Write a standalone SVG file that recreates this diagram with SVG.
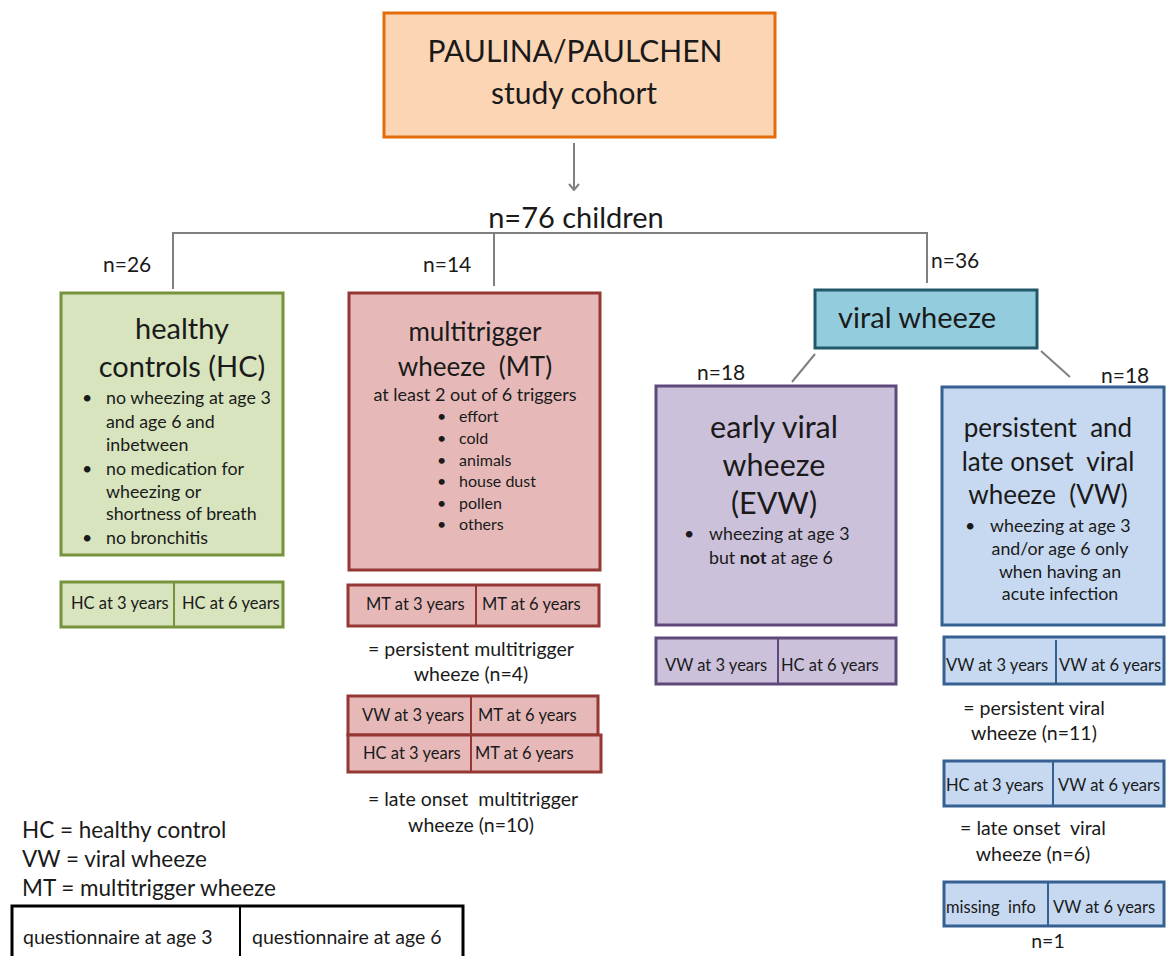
<svg xmlns="http://www.w3.org/2000/svg" width="1167" height="956" viewBox="0 0 1167 956">
<style>
text{font-family:Lato,"Liberation Sans",sans-serif;fill:#1a1a1a}
.c{text-anchor:middle}
.t{font-size:29px}
.s{font-size:16.5px}
.b{font-size:17.8px}
.tr{font-size:16px}
.a{font-size:19.5px}
.n{font-size:21px}
.conn{stroke:#808080;stroke-width:2;fill:none}
.g{fill:#d7e4bd;stroke:#77933c;stroke-width:3}
.r{fill:#e6b9b8;stroke:#953735;stroke-width:3}
.p{fill:#ccc1da;stroke:#5f497a;stroke-width:3}
.bl{fill:#c6d9f1;stroke:#376092;stroke-width:3}
.d{stroke-width:2;fill:none}
</style>
<defs>
<marker id="arr" viewBox="0 0 12 12" refX="11" refY="6" markerWidth="12" markerHeight="12" markerUnits="userSpaceOnUse" orient="auto">
<path d="M5,1 L11,6 L5,11" fill="none" stroke="#808080" stroke-width="2"/>
</marker>
</defs>
<rect width="1167" height="956" fill="#fff"/>

<g id="connectors">
<line class="conn" x1="574" y1="143" x2="574" y2="190" marker-end="url(#arr)"/>
<polyline class="conn" points="173,289 173,233 927,233 927,283"/>
<line class="conn" x1="494" y1="233" x2="494" y2="286"/>
<line class="conn" x1="815" y1="354" x2="792" y2="382"/>
<line class="conn" x1="1041" y1="351" x2="1070" y2="377"/>
</g>

<g id="cohort">
<rect x="384" y="13" width="391" height="124" fill="#fcd5b5" stroke="#e46c0a" stroke-width="3"/>
<text class="c" x="575" y="62" font-size="30">PAULINA/PAULCHEN</text>
<text class="c" x="574" y="104" font-size="30">study cohort</text>
</g>

<g id="labels">
<text class="c" x="576" y="228" font-size="29">n=76 children</text>
<text class="n" x="103" y="272">n=26</text>
<text class="n" x="423" y="272">n=14</text>
<text class="n" x="931" y="268">n=36</text>
<text class="n" x="697" y="380">n=18</text>
<text class="n" x="1101" y="383">n=18</text>
</g>

<g id="hc">
<rect class="g" x="61" y="293" width="222" height="262"/>
<text class="c t" x="182" y="339">healthy</text>
<text class="c t" x="182" y="377">controls (HC)</text>
<g class="b">
<text x="82" y="404">•</text><text x="106" y="404">no wheezing at age 3</text>
<text x="106" y="428">and age 6 and</text>
<text x="106" y="451">inbetween</text>
<text x="82" y="475">•</text><text x="106" y="475">no medication for</text>
<text x="106" y="498">wheezing or</text>
<text x="106" y="520">shortness of breath</text>
<text x="82" y="544">•</text><text x="106" y="544">no bronchitis</text>
</g>
</g>
<g id="hc-years">
<rect class="g" x="61" y="582" width="222" height="45"/>
<line class="d" x1="174" y1="582" x2="174" y2="627" stroke="#77933c"/>
<text class="s" x="71" y="609">HC at 3 years</text>
<text class="s" x="182" y="609">HC at 6 years</text>
</g>

<g id="mt">
<rect class="r" x="349" y="293" width="251" height="277"/>
<text class="c" x="475" y="341" font-size="26">multitrigger</text>
<text class="c" x="475" y="376" font-size="26" xml:space="preserve">wheeze  (MT)</text>
<text class="c" x="475" y="401" font-size="18">at least 2 out of 6 triggers</text>
<g class="tr">
<text x="437" y="422">•</text><text x="459" y="422">effort</text>
<text x="437" y="444">•</text><text x="459" y="444">cold</text>
<text x="437" y="466">•</text><text x="459" y="466">animals</text>
<text x="437" y="487">•</text><text x="459" y="487">house dust</text>
<text x="437" y="509">•</text><text x="459" y="509">pollen</text>
<text x="437" y="530">•</text><text x="459" y="530">others</text>
</g>
</g>
<g id="mt-persistent">
<rect class="r" x="348" y="585" width="251" height="41"/>
<line class="d" x1="476" y1="585" x2="476" y2="626" stroke="#953735"/>
<text class="s" x="366" y="610">MT at 3 years</text>
<text class="s" x="482" y="610">MT at 6 years</text>
<text class="c a" x="471" y="656">= persistent multitrigger</text>
<text class="c a" x="471" y="681">wheeze (n=4)</text>
</g>
<g id="mt-late">
<rect class="r" x="348" y="696" width="250" height="39"/>
<rect class="r" x="348" y="735" width="253" height="37"/>
<line class="d" x1="471" y1="696" x2="471" y2="773" stroke="#953735"/>
<text class="s" x="362" y="721">VW at 3 years</text>
<text class="s" x="478" y="721">MT at 6 years</text>
<text class="s" x="363" y="759">HC at 3 years</text>
<text class="s" x="475" y="759">MT at 6 years</text>
<text class="c a" x="473" y="806" xml:space="preserve">= late onset  multitrigger</text>
<text class="c a" x="471" y="832">wheeze (n=10)</text>
</g>

<g id="viral">
<rect x="815" y="290" width="222" height="58" fill="#93cddd" stroke="#215968" stroke-width="3"/>
<text class="t" x="838" y="328">viral wheeze</text>
</g>

<g id="evw">
<rect class="p" x="656" y="386" width="240" height="239"/>
<text class="c" x="774" y="438" font-size="30.5">early viral</text>
<text class="c" x="774" y="476" font-size="30.5">wheeze</text>
<text class="c" x="774" y="514" font-size="30.5">(EVW)</text>
<g class="b">
<text x="684" y="540">•</text><text x="709" y="540">wheezing at age 3</text>
<text x="709" y="564">but <tspan font-weight="bold">not</tspan> at age 6</text>
</g>
</g>
<g id="evw-years">
<rect class="p" x="656" y="638" width="240" height="46"/>
<line class="d" x1="778" y1="638" x2="778" y2="684" stroke="#5f497a"/>
<text class="s" x="665" y="671">VW at 3 years</text>
<text class="s" x="781" y="671">HC at 6 years</text>
</g>

<g id="vw">
<rect class="bl" x="942" y="387" width="222" height="238"/>
<text class="c" x="1048" y="437" font-size="26" xml:space="preserve">persistent  and</text>
<text class="c" x="1048" y="471" font-size="26" xml:space="preserve">late onset  viral</text>
<text class="c" x="1048" y="504" font-size="26" xml:space="preserve">wheeze  (VW)</text>
<g class="b">
<text x="965" y="532">•</text><text x="990" y="532">wheezing at age 3</text>
<text class="c" x="1060" y="555">and/or age 6 only</text>
<text class="c" x="1060" y="578">when having an</text>
<text class="c" x="1060" y="600">acute infection</text>
</g>
</g>
<g id="vw-persistent">
<rect class="bl" x="944" y="637" width="220" height="47"/>
<line class="d" x1="1056" y1="640" x2="1056" y2="684" stroke="#376092"/>
<text class="s" x="946" y="671">VW at 3 years</text>
<text class="s" x="1059" y="671">VW at 6 years</text>
<text class="c a" x="1034" y="715">= persistent viral</text>
<text class="c a" x="1034" y="740">wheeze (n=11)</text>
</g>
<g id="vw-late">
<rect class="bl" x="944" y="761" width="220" height="45"/>
<line class="d" x1="1053" y1="761" x2="1053" y2="806" stroke="#376092"/>
<text class="s" x="946" y="791">HC at 3 years</text>
<text class="s" x="1058" y="791">VW at 6 years</text>
<text class="c a" x="1033" y="835" xml:space="preserve">= late onset  viral</text>
<text class="c a" x="1033" y="861">wheeze (n=6)</text>
</g>
<g id="vw-missing">
<rect class="bl" x="944" y="882" width="220" height="44"/>
<line class="d" x1="1048" y1="882" x2="1048" y2="926" stroke="#376092"/>
<text class="s" x="946" y="913" xml:space="preserve">missing  info</text>
<text class="s" x="1053" y="913">VW at 6 years</text>
<text class="c a" x="1048" y="948">n=1</text>
</g>

<g id="legend">
<text x="22" y="838" font-size="22.5">HC = healthy control</text>
<text x="22" y="867" font-size="22.5">VW = viral wheeze</text>
<text x="22" y="896" font-size="22.5">MT = multitrigger wheeze</text>
<rect x="12" y="906" width="451" height="60" fill="none" stroke="#000" stroke-width="3"/>
<line x1="240" y1="906" x2="240" y2="956" stroke="#000" stroke-width="2"/>
<text x="23" y="944" font-size="19.5">questionnaire at age 3</text>
<text x="252" y="944" font-size="19.5">questionnaire at age 6</text>
</g>
</svg>
